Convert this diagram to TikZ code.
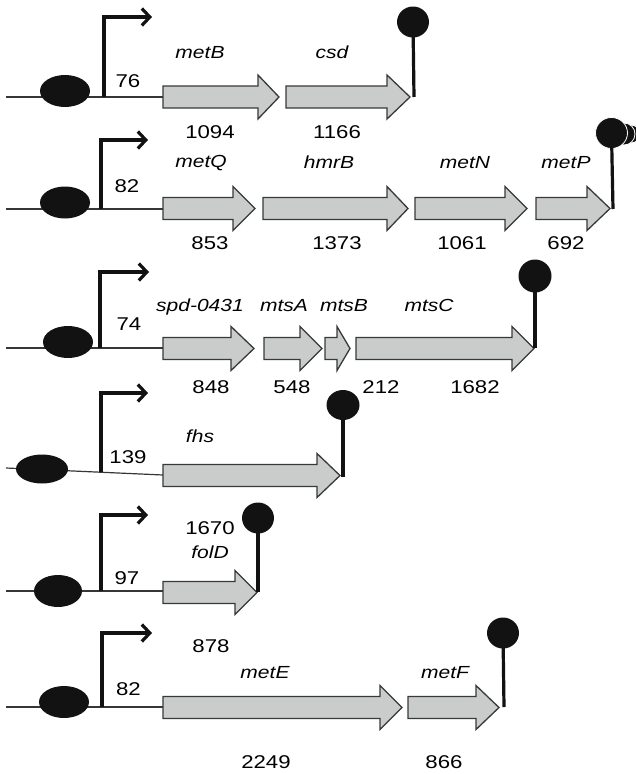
\documentclass[tikz,border=0pt]{standalone}
\usepackage{fontspec}
\setmainfont[FakeStretch=1.2]{Liberation Sans}
\usetikzlibrary{shapes.geometric,arrows.meta}
\definecolor{genefill}{RGB}{202,204,204}
\definecolor{geneline}{RGB}{55,57,57}
\definecolor{ink}{RGB}{18,18,18}
\newcommand{\genearrow}[4]{%
  \draw[gene] (#1,#4-11) -- (#2,#4-11) -- (#2,#4-22) -- (#3,#4) -- (#2,#4+22) -- (#2,#4+11) -- (#1,#4+11) -- cycle;}
\begin{document}
\begin{tikzpicture}[x=1pt,y=-1pt,
  dna/.style={line width=1.2pt, draw=ink!85},
  prom/.style={line width=3.2pt, draw=ink, line join=miter, -{Straight Barb[length=8pt,width=17pt]}},
  gene/.style={fill=genefill, draw=geneline, line width=1.3pt, line join=miter},
  ball/.style={ellipse, fill=ink, inner sep=0pt, minimum width=32pt, minimum height=31pt},
  stem/.style={line width=3.2pt, draw=ink},
  rbs/.style={ellipse, fill=ink, inner sep=0pt, minimum width=50pt, minimum height=32pt},
  num/.style={font=\fontsize{18.5}{20}\selectfont, anchor=base, inner sep=0pt},
  lab/.style={font=\fontsize{17.5}{20}\selectfont\itshape, anchor=base, inner sep=0pt}]
\useasboundingbox (0,0) rectangle (636,774);

% ---------------- Row 1 ----------------
\coordinate (s1) at (6,97); \coordinate (g1) at (163,97);
\draw[dna] (s1) -- (g1);
\node[rbs] (e1) at (65,91) {};
\coordinate (p1) at (104,97); \coordinate (q1) at (104,17); \coordinate (r1) at (152,17);
\draw[prom] (p1) -- (q1) -- (r1);
\genearrow{163}{258}{279}{97}
\genearrow{286}{387}{410}{97}
\node[ball] (t1) at (413,22) {};
\coordinate (u1) at (414,97);
\draw[stem] (u1) -- (t1.center);
\node[num] (n76) at (128,87) {76};
\node[lab] (metB) at (200,58) {metB};
\node[lab] (csd) at (332,58) {csd};
\node[num] (n1094) at (210,138) {1094};
\node[num] (n1166) at (337,138) {1166};

% ---------------- Row 2 ----------------
\coordinate (s2) at (6,209); \coordinate (g2) at (163,209);
\draw[dna] (s2) -- (g2);
\node[rbs] (e2) at (65,202.5) {};
\coordinate (p2) at (101,209); \coordinate (q2) at (101,140); \coordinate (r2) at (148,140);
\draw[prom] (p2) -- (q2) -- (r2);
\genearrow{163}{233}{255}{208.5}
\genearrow{263}{387}{408}{208.5}
\genearrow{415}{505}{527}{208.5}
\genearrow{536}{587}{610}{208.5}
\node[ellipse, fill=ink, draw=white, line width=0.8pt, inner sep=0pt, minimum width=18pt, minimum height=18pt] (t2c) at (631,134) {};
\node[ellipse, fill=ink, draw=white, line width=0.8pt, inner sep=0pt, minimum width=22pt, minimum height=22pt] (t2b) at (624,134) {};
\node[ball, draw=white, line width=0.8pt] (t2) at (611.5,133) {};
\coordinate (u2) at (613,209);
\draw[stem] (u2) -- (t2.center);
\node[num] (n82a) at (127,192) {82};
\node[lab] (metQ) at (201,167) {metQ};
\node[lab] (hmrB) at (329,168) {hmrB};
\node[lab] (metN) at (465,168) {metN};
\node[lab] (metP) at (566,168) {metP};
\node[num] (n853) at (210,249) {853};
\node[num] (n1373) at (337,249) {1373};
\node[num] (n1061) at (462,249) {1061};
\node[num] (n692) at (566,249) {692};

% ---------------- Row 3 ----------------
\coordinate (s3) at (6,348); \coordinate (g3) at (163,348);
\draw[dna] (s3) -- (g3);
\node[rbs] (e3) at (68,342) {};
\coordinate (p3) at (100,348); \coordinate (q3) at (100,272); \coordinate (r3) at (149,272);
\draw[prom] (p3) -- (q3) -- (r3);
\genearrow{163}{231}{254}{348.5}
\genearrow{264}{300}{322}{348.5}
\genearrow{325}{337}{350}{348.5}
\genearrow{356}{512}{534}{348.5}
\node[ball, minimum width=33pt, minimum height=33pt] (t3) at (535,276) {};
\coordinate (u3) at (535,348);
\draw[stem] (u3) -- (t3.center);
\node[num] (n74) at (129,330) {74};
\node[lab] (spd) at (200,311) {spd-0431};
\node[lab] (mtsA) at (284,311) {mtsA};
\node[lab] (mtsB) at (344,311) {mtsB};
\node[lab] (mtsC) at (429,311) {mtsC};
\node[num] (n848) at (211,393) {848};
\node[num] (n548) at (292,393) {548};
\node[num] (n212) at (381,393) {212};
\node[num] (n1682) at (475,393) {1682};

% ---------------- Row 4 ----------------
\coordinate (s4) at (6,468); \coordinate (g4) at (163,475);
\draw[dna] (s4) -- (g4);
\node[rbs, minimum width=52pt, minimum height=29pt] (e4) at (42,469) {};
\coordinate (p4) at (101,472); \coordinate (q4) at (101,393); \coordinate (r4) at (148,393);
\draw[prom] (p4) -- (q4) -- (r4);
\genearrow{163}{317}{340}{475.5}
\node[ball, minimum width=33pt, minimum height=30pt] (t4) at (343,405) {};
\coordinate (u4) at (343,477);
\draw[stem] (u4) -- (t4.center);
\node[num] (n139) at (128,463) {139};
\node[lab] (fhs) at (200,442) {fhs};

% ---------------- Row 5 ----------------
\coordinate (s5) at (6,591); \coordinate (g5) at (163,591);
\draw[dna] (s5) -- (g5);
\node[rbs, minimum width=48pt] (e5) at (58,591) {};
\coordinate (p5) at (101,591); \coordinate (q5) at (101,515); \coordinate (r5) at (148,515);
\draw[prom] (p5) -- (q5) -- (r5);
\genearrow{163}{235}{257}{592.5}
\node[ball] (t5) at (258,518) {};
\coordinate (u5) at (258,592);
\draw[stem] (u5) -- (t5.center);
\node[num] (n97) at (127,584) {97};
\node[num] (n1670) at (210,534) {1670};
\node[lab] (folD) at (210,558) {folD};

% ---------------- Row 6 ----------------
\coordinate (s6) at (6,707); \coordinate (g6) at (163,707);
\draw[dna] (s6) -- (g6);
\node[rbs] (e6) at (64,702) {};
\coordinate (p6) at (102,707); \coordinate (q6) at (102,633); \coordinate (r6) at (152,633);
\draw[prom] (p6) -- (q6) -- (r6);
\genearrow{163}{380}{402}{707.5}
\genearrow{408}{476}{499}{707.5}
\node[ball] (t6) at (503,633) {};
\coordinate (u6) at (504,707);
\draw[stem] (u6) -- (t6.center);
\node[num] (n82b) at (128.5,695) {82};
\node[num] (n878) at (211,652) {878};
\node[lab] (metE) at (265,678) {metE};
\node[lab] (metF) at (445,678) {metF};
\node[num] (n2249) at (266,768) {2249};
\node[num] (n866) at (444,768) {866};
\end{tikzpicture}
\end{document}
